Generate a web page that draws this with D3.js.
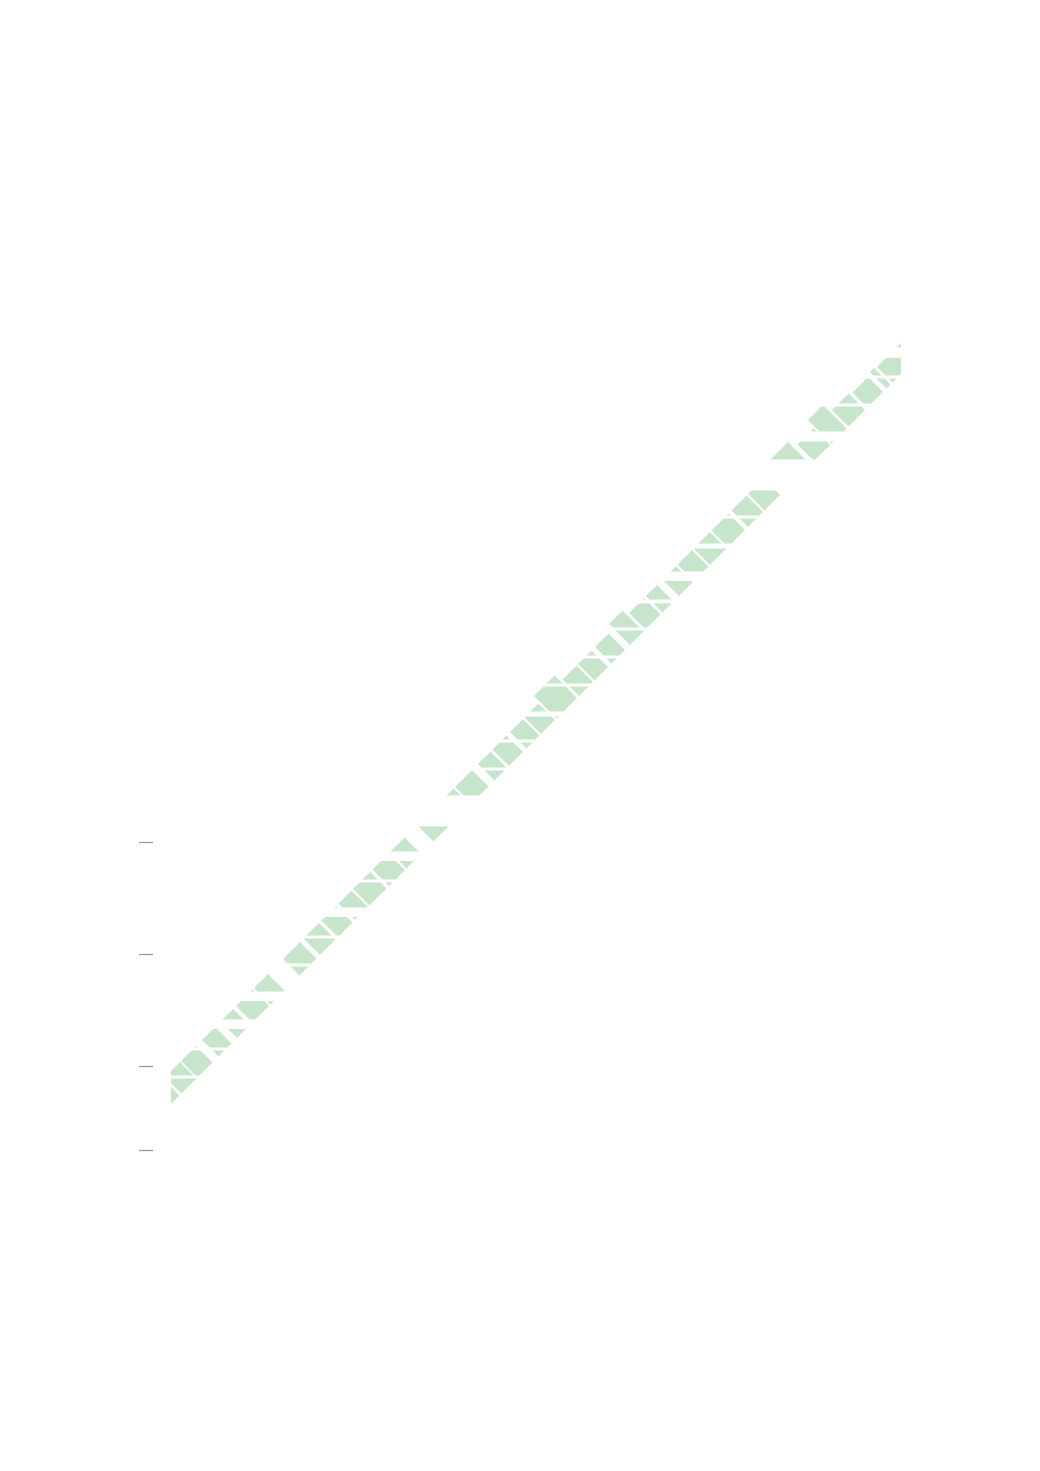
<!DOCTYPE html>
<html>
<head>
<meta charset="utf-8">
<script src="https://cdn.jsdelivr.net/npm/d3@7/dist/d3.min.js"></script>
<style>
  html, body { margin: 0; padding: 0; background: #ffffff; }
  svg { display: block; }
</style>
</head>
<body>
<svg id="chart" width="1040" height="1471"></svg>
<script>
// ---- data ----
// pieces laid along the diagonal trend: start / end position along the trend
const segStart = [-1.20, 1.196, 1.768, 2.518, 3.179, 3.732, 4.375, 5.411, 6.143, 6.786,
                  7.393, 7.911, 8.607, 9.232, 10.196, 11.554, 12.375, 12.893, 13.518, 14.036,
                  14.589, 15.393, 15.946, 16.554, 17.214, 17.768, 18.375, 18.964, 19.500, 20.071,
                  20.714, 21.429, 22.018, 22.839, 23.786, 24.411, 25.018, 25.696, 26.375, 26.589];
const segEnd   = [1.125, 1.732, 2.304, 2.982, 3.625, 4.321, 4.875, 6.018, 6.696, 7.304,
                  7.857, 8.518, 9.179, 9.750, 11.500, 12.161, 12.821, 13.393, 13.982, 14.536,
                  15.321, 15.893, 16.429, 17.036, 17.696, 18.304, 18.768, 19.446, 20.018, 20.661,
                  21.321, 21.964, 22.571, 23.661, 24.357, 24.946, 25.607, 26.250, 26.518, 28.550];
// thickness of each piece, measured across the trend
const segSize  = [1.18, 1.18, 1.18, 1.18, 1.18, 1.18, 1.18, 1.18, 1.18, 1.18,
                  1.18, 1.18, 1.18, 1.18, 1.18, 1.18, 1.18, 1.18, 1.18, 1.18,
                  1.61, 1.18, 1.18, 1.18, 1.50, 1.18, 1.18, 1.18, 1.18, 1.18,
                  1.18, 1.18, 1.18, 1.61, 1.18, 1.68, 1.18, 1.07, 1.18, 1.11];
const baseOffset = 1.643;          // common base line: y = x + baseOffset

// horizontal rows (bands) in which the pieces are visible
const rowBase   = [1.66, 2.66, 3.66, 4.66, 5.66, 6.66, 7.66, 8.66, 9.66, 10.66,
                   11.66, 12.66, 13.66, 14.66, 15.66, 16.66, 17.66, 18.66, 19.66, 20.66,
                   21.66, 22.66, 23.66, 24.66, 25.66, 26.66, 27.66, 28.66];
const rowHeight = [0.89, 0.89, 0.66, 0.66, 0.89, 0.89, 0.66, 0.89, 0.66, 0.89,
                   0.00, 0.89, 0.89, 0.82, 0.89, 0.89, 0.89, 0.86, 0.66, 0.82,
                   0.89, 0.89, 0.00, 0.64, 0.89, 0.89, 0.63, 0.89];

const yTicks = [0, 3, 7, 11];
const xDomain = [0, 26.07];
const yDomain = [0, 28.82];

// ---- drawing ----
const svg = d3.select("#chart");
const plot = { left: 171, right: 901, top: 343, bottom: 1150 };
const green = "#c6e5cb";

const x = d3.scaleLinear().domain(xDomain).range([plot.left, plot.right]);
const y = d3.scaleLinear().domain(yDomain).range([plot.bottom, plot.top]);

// clip: visible row bands inside the plot area
const rows = d3.range(rowBase.length)
  .map(i => ({ base: rowBase[i], h: rowHeight[i] }))
  .filter(r => r.h > 0);

svg.append("defs").append("clipPath").attr("id", "rowclip")
  .selectAll("rect").data(rows).join("rect")
  .attr("x", x(xDomain[0]))
  .attr("width", x(xDomain[1]) - x(xDomain[0]))
  .attr("y", r => y(r.base + r.h))
  .attr("height", r => y(r.base) - y(r.base + r.h));

// trend coordinates (p along, q across) -> data (x, y)
const toXY = (p, q) => [p - q / 2, p + q / 2];
const pieces = d3.range(segStart.length).map(i => {
  const a = segStart[i], b = segEnd[i], q0 = baseOffset, q1 = baseOffset + segSize[i];
  return [toXY(a, q0), toXY(b, q0), toXY(b, q1), toXY(a, q1)];
});

const shape = d3.line().x(d => x(d[0])).y(d => y(d[1])).curve(d3.curveLinearClosed);

svg.append("g")
  .attr("clip-path", "url(#rowclip)")
  .selectAll("path").data(pieces).join("path")
  .attr("d", shape)
  .attr("fill", green);

// y axis: ticks only
const axis = svg.append("g")
  .attr("transform", `translate(${plot.left - 18},0)`)
  .call(d3.axisLeft(y).tickValues(yTicks).tickSize(14).tickFormat(""));
axis.select(".domain").remove();
axis.selectAll(".tick line").attr("stroke", "#999999").attr("stroke-width", 1.3);
</script>
</body>
</html>
